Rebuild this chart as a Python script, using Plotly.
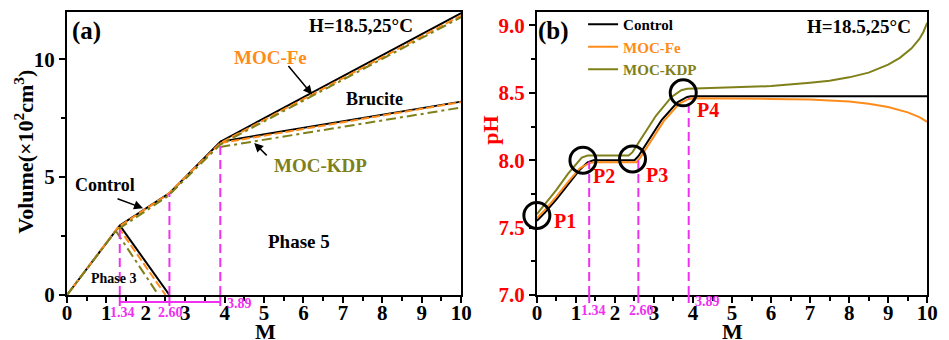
import plotly.graph_objects as go

# ---------------- data: panel (a) volume vs M ----------------
ctrl_main_m = [0, 1.34, 2.60, 3.89, 10]
ctrl_main_v = [0, 2.95, 4.32, 6.50, 11.95]
ctrl_bru_m = [3.89, 10]
ctrl_bru_v = [6.50, 8.20]
ctrl_ph3_m = [1.34, 2.60]
ctrl_ph3_v = [2.95, 0]

fe_main_m = [0, 1.30, 2.55, 3.89, 10]
fe_main_v = [0, 2.88, 4.26, 6.44, 11.85]
fe_bru_m = [3.89, 10]
fe_bru_v = [6.44, 8.18]
fe_ph3_m = [1.30, 2.50]
fe_ph3_v = [2.88, 0]

kdp_main_m = [0, 1.24, 2.55, 3.89, 10]
kdp_main_v = [0, 2.72, 4.18, 6.38, 11.78]
kdp_bru_m = [3.89, 10]
kdp_bru_v = [6.28, 7.95]
kdp_ph3_m = [1.24, 2.32]
kdp_ph3_v = [2.72, 0]

m_points = [1.34, 2.60, 3.89]
m_labels = ["1.34", "2.60", "3.89"]
vline_top_a = [2.92, 4.30, 6.47]

# ---------------- data: panel (b) pH vs M ----------------
ph_ctrl_m = [0, 0.2, 0.5, 0.8, 1.1, 1.3, 1.45, 2.5, 2.6, 2.8, 3.2, 3.6, 3.85, 3.95, 10]
ph_ctrl_v = [7.55, 7.61, 7.71, 7.82, 7.93, 7.985, 8.0, 8.0, 8.03, 8.12, 8.30, 8.43, 8.47, 8.475, 8.475]

ph_fe_m = [0, 0.2, 0.5, 0.8, 1.1, 1.35, 1.5, 2.55, 2.65, 2.85, 3.25, 3.65, 3.9, 4.0, 5, 6, 7, 8, 8.5, 9, 9.5, 9.8, 10]
ph_fe_v = [7.57, 7.63, 7.73, 7.84, 7.94, 7.98, 7.985, 7.985, 8.02, 8.11, 8.29, 8.42, 8.455, 8.46, 8.46, 8.455, 8.45, 8.435, 8.42, 8.395, 8.355, 8.32, 8.285]

ph_kdp_m = [0, 0.2, 0.5, 0.8, 1.0, 1.15, 1.3, 2.35, 2.45, 2.65, 3.05, 3.45, 3.7, 3.85, 4.5, 5, 6, 7, 7.5, 8, 8.5, 9, 9.3, 9.6, 9.8, 9.9, 10]
ph_kdp_v = [7.60, 7.67, 7.78, 7.90, 7.97, 8.02, 8.035, 8.035, 8.06, 8.15, 8.33, 8.47, 8.52, 8.53, 8.535, 8.54, 8.55, 8.575, 8.59, 8.615, 8.65, 8.71, 8.76, 8.83, 8.90, 8.95, 9.02]

p_names = ["P1", "P2", "P3", "P4"]
p_circle_m = [0.0, 1.18, 2.45, 3.75]
p_circle_v = [7.59, 8.00, 8.01, 8.50]
p_label_m = [0.71, 1.71, 3.07, 4.38]
p_label_v = [7.55, 7.88, 7.89, 8.37]
vline_top_b = [7.99, 8.00, 8.46]

# ---------------- styles ----------------
BLACK = "#000000"
ORANGE = "#FF8C1A"
OLIVE = "#80801A"
MAGENTA = "#F030F0"
RED = "#FF0000"
FONT = "Liberation Serif"
W, H = 949, 340
T_MARGIN, B_MARGIN = 12, 45


def yp(py):
    """pixel row -> paper y"""
    return (H - B_MARGIN - py) / (H - T_MARGIN - B_MARGIN)


fig = go.Figure()

# ---- panel (a) lines ----
series_a = [
    (BLACK, "solid", [(ctrl_main_m, ctrl_main_v), (ctrl_bru_m, ctrl_bru_v), (ctrl_ph3_m, ctrl_ph3_v)]),
    (ORANGE, "8px,3px", [(fe_main_m, fe_main_v), (fe_bru_m, fe_bru_v), (fe_ph3_m, fe_ph3_v)]),
    (OLIVE, "10px,4px,3px,4px", [(kdp_main_m, kdp_main_v), (kdp_bru_m, kdp_bru_v), (kdp_ph3_m, kdp_ph3_v)]),
]
for color, dash, parts in series_a:
    for xs, ys in parts:
        fig.add_trace(go.Scatter(x=xs, y=ys, mode="lines", xaxis="x", yaxis="y",
                                 line=dict(color=color, width=2, dash=dash),
                                 showlegend=False, hoverinfo="skip"))

for m, top in zip(m_points, vline_top_a):
    fig.add_trace(go.Scatter(x=[m, m], y=[0, top], mode="lines", xaxis="x", yaxis="y",
                             line=dict(color=MAGENTA, width=2, dash="9px,5px"),
                             showlegend=False, hoverinfo="skip"))

# ---- panel (b) lines ----
for name, color, xs, ys in [("Control", BLACK, ph_ctrl_m, ph_ctrl_v),
                            ("MOC-Fe", ORANGE, ph_fe_m, ph_fe_v),
                            ("MOC-KDP", OLIVE, ph_kdp_m, ph_kdp_v)]:
    fig.add_trace(go.Scatter(x=xs, y=ys, mode="lines", xaxis="x2", yaxis="y2",
                             line=dict(color=color, width=2),
                             name='<span style="color:%s">%s</span>' % (color, name),
                             hoverinfo="skip"))

for m, top in zip(m_points, vline_top_b):
    fig.add_trace(go.Scatter(x=[m, m], y=[7.0, top], mode="lines", xaxis="x2", yaxis="y2",
                             line=dict(color=MAGENTA, width=2, dash="9px,5px"),
                             showlegend=False, hoverinfo="skip"))

fig.add_trace(go.Scatter(x=p_circle_m, y=p_circle_v, mode="markers", xaxis="x2", yaxis="y2",
                         marker=dict(symbol="circle-open", size=26, color=BLACK,
                                     line=dict(color=BLACK, width=3)),
                         showlegend=False, hoverinfo="skip", cliponaxis=False))

# ---------------- axes ----------------
def axis_common(size):
    return dict(showgrid=False, zeroline=False, showline=True, linecolor=BLACK, linewidth=2,
                mirror=True, ticks="outside", ticklen=6, tickwidth=2, tickcolor=BLACK,
                tickfont=dict(family=FONT, size=size, color=BLACK, weight="bold"))


xa = axis_common(21)
xa.update(domain=[63 / W, 464 / W], range=[0, 10], tick0=0, dtick=1, anchor="y",
          minor=dict(dtick=0.5, ticks="outside", ticklen=3.5, tickwidth=1.5, tickcolor=BLACK),
          ticklabelstandoff=-8)
ya = axis_common(21)
ya.update(domain=[0, 1], range=[0, 12], tick0=0, dtick=5, anchor="x",
          minor=dict(dtick=2.5, ticks="outside", ticklen=3.5, tickwidth=1.5, tickcolor=BLACK))
xb = axis_common(21)
xb.update(domain=[541 / W, 938 / W], range=[0, 10], tick0=0, dtick=1, anchor="y2",
          minor=dict(dtick=0.5, ticks="outside", ticklen=3.5, tickwidth=1.5, tickcolor=BLACK),
          ticklabelstandoff=-8)
yb = axis_common(21)
yb.update(domain=[0, 1], range=[7.0, 9.1], tick0=7.0, dtick=0.5, tickformat=".1f", anchor="x2",
          tickfont=dict(family=FONT, size=21, color=RED, weight="bold"),
          minor=dict(dtick=0.25, ticks="outside", ticklen=3.5, tickwidth=1.5, tickcolor=BLACK))

# ---------------- annotations ----------------
ann = []


def txt(x, y, text, size, color=BLACK, xref="x", yref="y", angle=0, xanchor="center"):
    ann.append(dict(x=x, y=y, xref=xref, yref=yref, text=text, showarrow=False,
                    textangle=angle, xanchor=xanchor, yanchor="middle",
                    font=dict(family=FONT, size=size, color=color, weight="bold")))


# panel (a)
txt(0.5, 11.2, "(a)", 25)
txt(7.46, 11.41, "H=18.5,25°C", 19)
txt(5.16, 10.08, "MOC-Fe", 19, ORANGE)
txt(7.81, 8.29, "Brucite", 18)
txt(6.43, 5.51, "MOC-KDP", 19, OLIVE)
txt(0.97, 4.66, "Control", 18)
txt(1.2, 0.68, "Phase 3", 14)
txt(5.89, 2.26, "Phase 5", 19)
txt(19 / W, yp(152), "Volume(×10<sup>2</sup>cm<sup>3</sup>)", 22, xref="paper", yref="paper", angle=-90)
txt(265 / W, yp(331), "M", 22, xref="paper", yref="paper")

# panel (b)
txt(0.42, 8.96, "(b)", 25, xref="x2", yref="y2")
txt(8.26, 8.99, "H=18.5,25°C", 19, xref="x2", yref="y2")
for name, mx, vy in zip(p_names, p_label_m, p_label_v):
    txt(mx, vy, name, 20, RED, xref="x2", yref="y2")
txt(493 / W, yp(130), "pH", 22, RED, xref="paper", yref="paper", angle=-90)
txt(740 / W, yp(331), "M", 22, xref="paper", yref="paper")

# magenta value labels under the axes
label_dx_a = [0.07, 0.03, 0.12]
label_dx_b = [0.10, 0.07, 0.12]
label_py = [312, 312, 303]
for m, lab, dxa, dxb, py in zip(m_points, m_labels, label_dx_a, label_dx_b, label_py):
    xanch = "left" if lab == "3.89" else "center"
    txt(m + dxa, yp(py), lab, 14, MAGENTA, xref="x", yref="paper", xanchor=xanch)
    txt(m + dxb, yp(py - 2), lab, 14, MAGENTA, xref="x2", yref="paper", xanchor=xanch)

# arrows
for hx, hy, ax_, ay_ in [(6.22, 8.5, -25, -30), (1.93, 3.68, -27, -10), (4.75, 6.45, 14, 14)]:
    ann.append(dict(x=hx, y=hy, xref="x", yref="y", ax=ax_, ay=ay_, text="", showarrow=True,
                    arrowhead=2, arrowsize=1.2, arrowwidth=1.5, arrowcolor=BLACK))

# ---------------- shapes below axes ----------------
shapes = []
shapes.append(dict(type="line", xref="x", yref="paper", x0=m_points[0], x1=m_points[-1],
                   y0=yp(302), y1=yp(302), line=dict(color=MAGENTA, width=2)))
for m in m_points:
    shapes.append(dict(type="line", xref="x", yref="paper", x0=m, x1=m, y0=yp(297), y1=yp(306),
                       line=dict(color=MAGENTA, width=2)))
    shapes.append(dict(type="line", xref="x2", yref="paper", x0=m, x1=m, y0=yp(295), y1=yp(303),
                       line=dict(color=MAGENTA, width=2)))

fig.update_layout(
    width=W, height=H,
    margin=dict(l=0, r=0, t=T_MARGIN, b=B_MARGIN),
    paper_bgcolor="white", plot_bgcolor="white",
    xaxis=xa, yaxis=ya, xaxis2=xb, yaxis2=yb,
    annotations=ann, shapes=shapes,
    legend=dict(x=588 / W, y=yp(8), xanchor="left", yanchor="top",
                bgcolor="rgba(0,0,0,0)", borderwidth=0, tracegroupgap=0,
                font=dict(family=FONT, size=15, color=BLACK, weight="bold")),
    showlegend=True,
)

fig.write_html("out.html", config={"displayModeBar": False},
               post_script="document.body.style.margin='0';document.body.style.overflow='hidden';")
